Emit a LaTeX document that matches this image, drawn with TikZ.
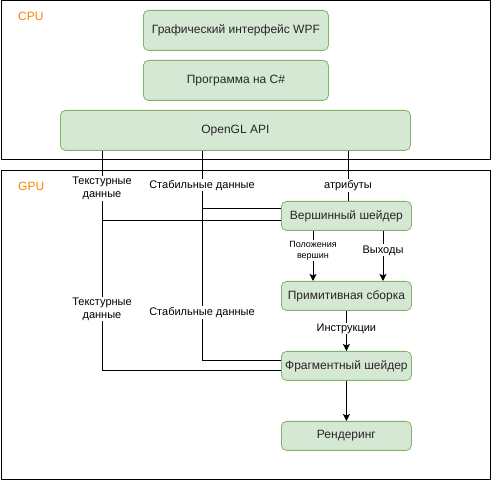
\documentclass[tikz,border=0pt]{standalone}
\usepackage{fontspec}
\setmainfont{Liberation Sans}
\usetikzlibrary{arrows.meta,positioning}
\definecolor{boxfill}{HTML}{D5E8D4}
\definecolor{boxline}{HTML}{82B366}
\definecolor{lblorange}{HTML}{FF8000}
\tikzset{
  gbox/.style={draw=boxline, fill=boxfill, rounded corners=5pt, line width=0.8pt,
    font=\fontsize{12}{14}\selectfont, text=black!85, inner sep=0pt, anchor=north west},
  frame/.style={draw=black, line width=1pt},
  conn/.style={draw=black, line width=0.9pt},
  arr/.style={conn, -{Stealth[length=7pt,width=7pt,inset=1.5pt]}},
  lbl/.style={fill=white, inner sep=1pt, font=\fontsize{11}{13}\selectfont, align=center, text=black},
  slbl/.style={fill=white, inner sep=1pt, font=\fontsize{9}{11}\selectfont, align=center, text=black},
  zone/.style={text=lblorange, font=\fontsize{12}{14}\selectfont, anchor=west, inner sep=0pt}
}
\begin{document}
\begin{tikzpicture}[x=1pt,y=-1pt]
\useasboundingbox (0,0) rectangle (491,481);
% frames
\draw[frame] (1,0.5) rectangle (490,160);
\draw[frame] (1,171) rectangle (490,480);
\node[zone] (cpu) at (18,16) {CPU};
\node[zone] (gpu) at (18,186) {GPU};
% boxes
\node[gbox, minimum width=185pt, minimum height=40pt] (wpf) at (143,10) {Графический интерфейс WPF};
\node[gbox, minimum width=185pt, minimum height=40pt] (prog) at (143,60) {Программа на C\#};
\node[gbox, minimum width=350pt, minimum height=40pt] (ogl) at (60,110) {OpenGL API};
\node[gbox, minimum width=130pt, minimum height=29pt] (vs) at (281,201) {Вершинный шейдер};
\node[gbox, minimum width=130pt, minimum height=29pt] (pa) at (281,281) {Примитивная сборка};
\node[gbox, minimum width=130pt, minimum height=29pt] (fs) at (281,351) {Фрагментный шейдер};
\node[gbox, minimum width=130pt, minimum height=29pt] (rend) at (281,421) {Рендеринг};
% coordinates for vertical data lines
\coordinate (tx) at (102,0);
\coordinate (sx) at (202,0);
\coordinate (ax) at (348,0);
\coordinate (px) at (313,0);
\coordinate (ox) at (383,0);
% OpenGL -> fragment shader
\draw[conn] (tx |- ogl.south) |- ([yshift=-4.5pt]fs.west)
  node[lbl, pos=0.36] {Текстурные\\данные};
\draw[conn] (sx |- ogl.south) |- ([yshift=5.5pt]fs.west)
  node[lbl, pos=0.386] {Стабильные данные};
% OpenGL -> vertex shader
\draw[conn] (tx |- ogl.south) |- ([yshift=-4.5pt]vs.west)
  node[lbl, pos=0.27] {Текстурные\\данные};
\draw[conn] (sx |- ogl.south) |- ([yshift=7.5pt]vs.west)
  node[lbl, pos=0.30] {Стабильные данные};
\draw[conn] (ax |- ogl.south) -- (ax |- vs.north)
  node[lbl, pos=0.69] {атрибуты};
% vertex -> primitive
\draw[arr] (px |- vs.south) -- (px |- pa.north)
  node[slbl, pos=0.39] {Положения\\вершин};
\draw[arr] (ox |- vs.south) -- (ox |- pa.north)
  node[lbl, pos=0.39] {Выходы};
% primitive -> fragment -> rendering
\draw[arr] (pa.south) -- (fs.north) node[lbl, pos=0.44] {Инструкции};
\draw[arr] (fs.south) -- (rend.north);
\end{tikzpicture}
\end{document}
